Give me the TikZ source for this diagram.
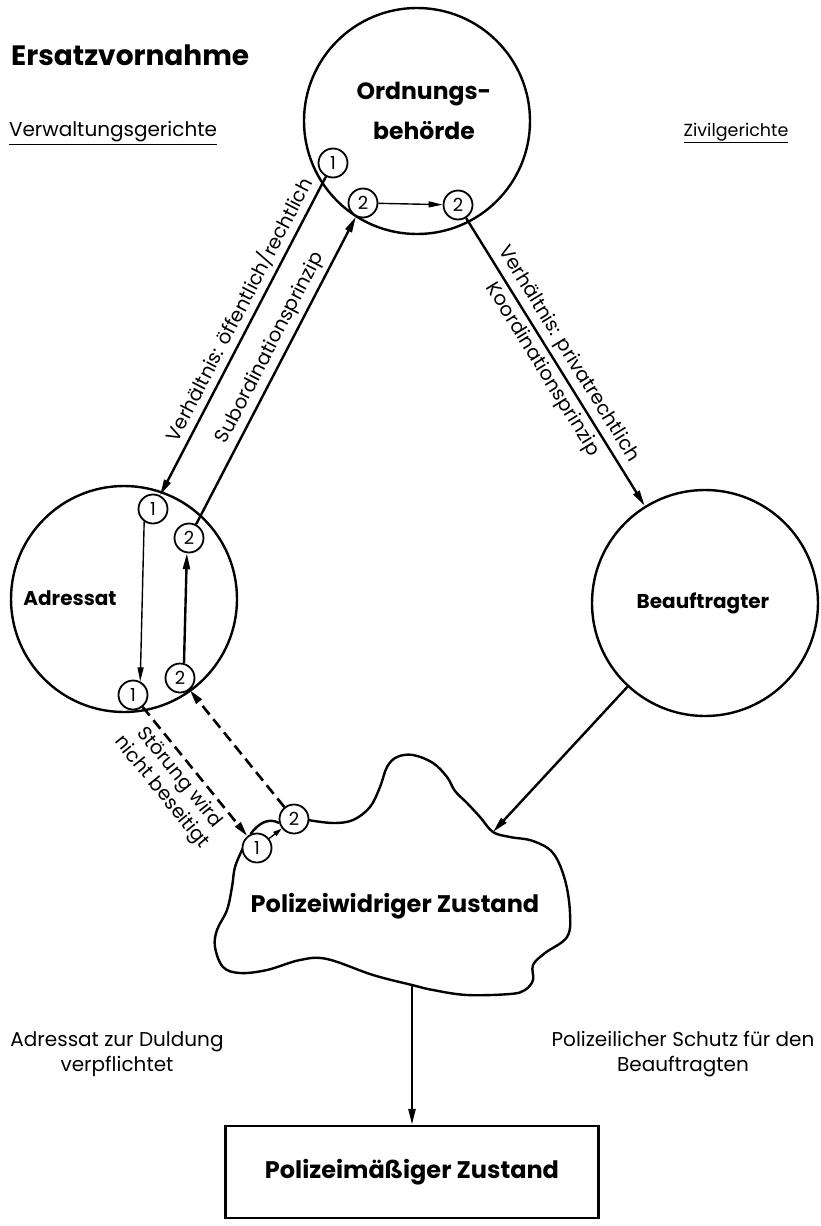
\documentclass[tikz,border=0pt]{standalone}
\usepackage{fontspec}
\setmainfont{Poppins}
\usetikzlibrary{arrows.meta}
\begin{document}
\begin{tikzpicture}[x=1pt,y=1pt,
  big/.style={circle, draw, line width=2.4pt, minimum size=226pt, inner sep=0pt},
  heading/.style={font=\bfseries\fontsize{20}{38}\selectfont, align=center, inner sep=0pt},
  num/.style={circle, draw, line width=1.8pt, fill=white, minimum size=29pt, inner sep=0pt, font=\fontsize{18}{18}\selectfont},
  conn/.style={line width=2.4pt, -{Triangle[length=16pt,width=7pt]}},
  thinconn/.style={line width=1.4pt, -{Triangle[length=14pt,width=6pt]}},
  dashconn/.style={line width=2.6pt, dash pattern=on 11pt off 6pt, -{Triangle[length=15pt,width=7pt]}},
  lbl/.style={font=\fontsize{19.5}{23}\selectfont, inner sep=4pt},
  note/.style={font=\fontsize{20}{25}\selectfont, align=center, inner sep=0pt},
  outline/.style={line width=2.4pt, line join=round},
]
\useasboundingbox (0,0) rectangle (820,-1226);

% title and court labels
\node[anchor=west, font=\bfseries\fontsize{28}{28}\selectfont, inner sep=0pt] (title) at (11,-55) {Ersatzvornahme};
\node[note] (vg) at (113,-133) {\underline{Verwaltungsgerichte}};
\node[note, font=\fontsize{17.5}{20}\selectfont] (zg) at (736,-133) {\underline{Zivilgerichte}};

% main parties
\node[big] (ob) at (417,-121) {};
\node[heading, font=\bfseries\fontsize{23.5}{40}\selectfont] (obt) at (424,-111) {Ordnungs-\\behörde};
\node[big] (ad) at (124,-599) {};
\node[heading] (adt) at (70,-598) {Adressat};
\node[big] (bf) at (705,-603) {};
\node[heading] (bft) at (703,-603) {Beauftragter};

% disturbed state (irregular outline)
\draw[outline] plot[smooth, tension=0.6] coordinates {
  (308,-820) (333,-823) (353,-820) (370,-807) (380,-787) (387,-767) (397,-757)
  (413,-755) (433,-763) (447,-777) (455,-791) (467,-803) (480,-817) (493,-832)
  (510,-837) (533,-841) (553,-853) (565,-880) (570,-913) (567,-937) (545,-953)
  (533,-965) (533,-980) (525,-990) (510,-994) (467,-995) (433,-990) (412,-985)
  (373,-975) (327,-959) (300,-960) (267,-970) (240,-973) (223,-967) (215,-947)
  (217,-930) (227,-910) (232,-887) (235,-867) (243,-848)};
\node[heading, font=\bfseries\fontsize{24}{24}\selectfont] (pw) at (395,-906) {Polizeiwidriger Zustand};
\coordinate (cin) at (493,-832);
\coordinate (cbot) at (412,-985);

% lawful state
\node[draw, line width=2.4pt, minimum width=373pt, minimum height=92pt, inner sep=0pt,
      font=\bfseries\fontsize{24}{24}\selectfont] (pm) at (412,-1172) {Polizeimäßiger Zustand};

% numbered markers
\node[num] (o1) at (333,-163) {1};
\node[num] (o2l) at (363,-203) {2};
\node[num] (o2r) at (458,-205) {2};
\node[num] (a1t) at (153,-509) {1};
\node[num] (a2t) at (189,-538) {2};
\node[num] (a1b) at (133,-695) {1};
\node[num] (a2b) at (180,-678) {2};
\node[num] (c1) at (257,-848) {1};
\node[num] (c2) at (294,-819) {2};

% outline segment between the two markers on the disturbed state
\draw[outline] (c1.115) .. controls (258,-824) and (268,-817) .. (c2.195);

% connectors
\draw[conn] (o1) -- node[lbl, sloped, above, pos=0.44] {Verhältnis: öffentlich/rechtlich} (a1t);
\draw[conn] (a2t) -- node[lbl, sloped, above, pos=0.55] {Subordinationsprinzip} (o2l);
\draw[thinconn] (o2l) -- (o2r);
\draw[conn] (o2r) -- node[lbl, sloped, above, pos=0.5] {Verhältnis: privatrechtlich}
                     node[lbl, sloped, below, pos=0.5] {Koordinationsprinzip} (bf);
\draw[thinconn] (a1t.235) -- (a1b.62);
\draw[conn] (a2b.75) -- (a2t.262);
\draw[dashconn] (a1b) -- node[lbl, sloped, below, pos=0.47, align=center, inner sep=5pt] {Störung wird\\nicht beseitigt} (c1);
\draw[dashconn] (c2) -- (a2b);
\draw[thinconn, -{Triangle[length=9pt,width=5pt]}] (c1) -- (c2);
\draw[conn] (bf) -- (cin);
\draw[conn] (cbot) -- (pm);

% side notes
\node[note] (dul) at (117,-1054) {Adressat zur Duldung\\verpflichtet};
\node[note] (sch) at (683,-1054) {Polizeilicher Schutz für den\\Beauftragten};
\end{tikzpicture}
\end{document}
